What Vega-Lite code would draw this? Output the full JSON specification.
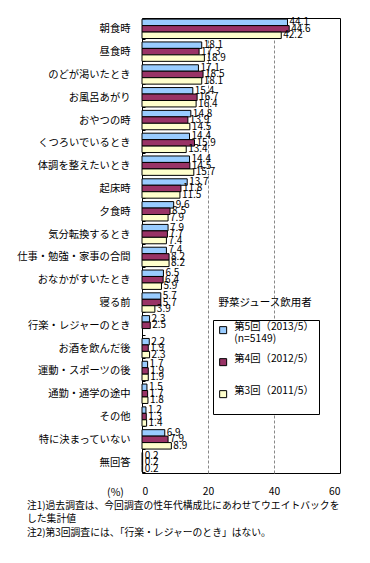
{
  "$schema": "https://vega.github.io/schema/vega-lite/v6.json",
  "width": 198,
  "height": 455,
  "autosize": {"type": "none"},
  "padding": {"left": 142, "top": 18, "right": 30, "bottom": 90},
  "config": {
    "font": "Noto Sans CJK JP",
    "view": {"stroke": "black", "strokeWidth": 1},
    "axis": {"labelColor": "black", "titleColor": "black", "tickColor": "black"}
  },
  "title": {
    "text": ["注1)過去調査は、今回調査の性年代構成比にあわせてウエイトバックを", "した集計値", "注2)第3回調査には、「行楽・レジャーのとき」はない。"],
    "orient": "bottom",
    "anchor": "start",
    "frame": "group",
    "dx": -115,
    "offset": 3,
    "fontSize": 9.8,
    "fontWeight": "normal",
    "lineHeight": 13.5,
    "color": "black"
  },
  "datasets": {
    "main": [
      {"cat": "朝食時", "series": "第5回（2013/5）", "v": 44.1},
      {"cat": "朝食時", "series": "第4回（2012/5）", "v": 44.6},
      {"cat": "朝食時", "series": "第3回（2011/5）", "v": 42.2},
      {"cat": "昼食時", "series": "第5回（2013/5）", "v": 18.1},
      {"cat": "昼食時", "series": "第4回（2012/5）", "v": 17.3},
      {"cat": "昼食時", "series": "第3回（2011/5）", "v": 18.9},
      {"cat": "のどが渇いたとき", "series": "第5回（2013/5）", "v": 17.1},
      {"cat": "のどが渇いたとき", "series": "第4回（2012/5）", "v": 18.5},
      {"cat": "のどが渇いたとき", "series": "第3回（2011/5）", "v": 18.1},
      {"cat": "お風呂あがり", "series": "第5回（2013/5）", "v": 15.4},
      {"cat": "お風呂あがり", "series": "第4回（2012/5）", "v": 16.7},
      {"cat": "お風呂あがり", "series": "第3回（2011/5）", "v": 16.4},
      {"cat": "おやつの時", "series": "第5回（2013/5）", "v": 14.8},
      {"cat": "おやつの時", "series": "第4回（2012/5）", "v": 13.9},
      {"cat": "おやつの時", "series": "第3回（2011/5）", "v": 14.5},
      {"cat": "くつろいでいるとき", "series": "第5回（2013/5）", "v": 14.4},
      {"cat": "くつろいでいるとき", "series": "第4回（2012/5）", "v": 15.9},
      {"cat": "くつろいでいるとき", "series": "第3回（2011/5）", "v": 13.4},
      {"cat": "体調を整えたいとき", "series": "第5回（2013/5）", "v": 14.4},
      {"cat": "体調を整えたいとき", "series": "第4回（2012/5）", "v": 14.5},
      {"cat": "体調を整えたいとき", "series": "第3回（2011/5）", "v": 15.7},
      {"cat": "起床時", "series": "第5回（2013/5）", "v": 13.7},
      {"cat": "起床時", "series": "第4回（2012/5）", "v": 11.8},
      {"cat": "起床時", "series": "第3回（2011/5）", "v": 11.5},
      {"cat": "夕食時", "series": "第5回（2013/5）", "v": 9.6},
      {"cat": "夕食時", "series": "第4回（2012/5）", "v": 8.5},
      {"cat": "夕食時", "series": "第3回（2011/5）", "v": 7.9},
      {"cat": "気分転換するとき", "series": "第5回（2013/5）", "v": 7.9},
      {"cat": "気分転換するとき", "series": "第4回（2012/5）", "v": 7.7},
      {"cat": "気分転換するとき", "series": "第3回（2011/5）", "v": 7.4},
      {"cat": "仕事・勉強・家事の合間", "series": "第5回（2013/5）", "v": 7.4},
      {"cat": "仕事・勉強・家事の合間", "series": "第4回（2012/5）", "v": 8.2},
      {"cat": "仕事・勉強・家事の合間", "series": "第3回（2011/5）", "v": 8.2},
      {"cat": "おなかがすいたとき", "series": "第5回（2013/5）", "v": 6.5},
      {"cat": "おなかがすいたとき", "series": "第4回（2012/5）", "v": 6.4},
      {"cat": "おなかがすいたとき", "series": "第3回（2011/5）", "v": 5.9},
      {"cat": "寝る前", "series": "第5回（2013/5）", "v": 5.7},
      {"cat": "寝る前", "series": "第4回（2012/5）", "v": 5.7},
      {"cat": "寝る前", "series": "第3回（2011/5）", "v": 3.9},
      {"cat": "行楽・レジャーのとき", "series": "第5回（2013/5）", "v": 2.3},
      {"cat": "行楽・レジャーのとき", "series": "第4回（2012/5）", "v": 2.5},
      {"cat": "お酒を飲んだ後", "series": "第5回（2013/5）", "v": 2.2},
      {"cat": "お酒を飲んだ後", "series": "第4回（2012/5）", "v": 1.9},
      {"cat": "お酒を飲んだ後", "series": "第3回（2011/5）", "v": 2.3},
      {"cat": "運動・スポーツの後", "series": "第5回（2013/5）", "v": 1.7},
      {"cat": "運動・スポーツの後", "series": "第4回（2012/5）", "v": 1.9},
      {"cat": "運動・スポーツの後", "series": "第3回（2011/5）", "v": 1.9},
      {"cat": "通勤・通学の途中", "series": "第5回（2013/5）", "v": 1.5},
      {"cat": "通勤・通学の途中", "series": "第4回（2012/5）", "v": 1.7},
      {"cat": "通勤・通学の途中", "series": "第3回（2011/5）", "v": 1.8},
      {"cat": "その他", "series": "第5回（2013/5）", "v": 1.2},
      {"cat": "その他", "series": "第4回（2012/5）", "v": 1.3},
      {"cat": "その他", "series": "第3回（2011/5）", "v": 1.4},
      {"cat": "特に決まっていない", "series": "第5回（2013/5）", "v": 6.9},
      {"cat": "特に決まっていない", "series": "第4回（2012/5）", "v": 7.9},
      {"cat": "特に決まっていない", "series": "第3回（2011/5）", "v": 8.9},
      {"cat": "無回答", "series": "第5回（2013/5）", "v": 0.2},
      {"cat": "無回答", "series": "第4回（2012/5）", "v": 0.2},
      {"cat": "無回答", "series": "第3回（2011/5）", "v": 0.2}
    ],
    "note": [{"t": "野菜ジュース飲用者"}]
  },
  "layer": [
    {
      "data": {"name": "main"},
      "mark": {"type": "bar", "stroke": "black", "strokeWidth": 1},
      "encoding": {
        "y": {
          "field": "cat", "type": "nominal",
          "sort": ["朝食時", "昼食時", "のどが渇いたとき", "お風呂あがり", "おやつの時", "くつろいでいるとき", "体調を整えたいとき", "起床時", "夕食時", "気分転換するとき", "仕事・勉強・家事の合間", "おなかがすいたとき", "寝る前", "行楽・レジャーのとき", "お酒を飲んだ後", "運動・スポーツの後", "通勤・通学の途中", "その他", "特に決まっていない", "無回答"],
          "scale": {"paddingInner": 0.15, "paddingOuter": 0.05},
          "axis": {"title": null, "domain": false, "ticks": true, "tickBand": "extent", "tickSize": -3, "labelPadding": 15, "labelFontSize": 10.3}
        },
        "yOffset": {
          "field": "series", "type": "nominal",
          "sort": ["第5回（2013/5）", "第4回（2012/5）", "第3回（2011/5）"],
          "scale": {"paddingInner": 0, "paddingOuter": 0}
        },
        "x": {
          "field": "v", "type": "quantitative",
          "scale": {"domain": [0, 60], "nice": false},
          "axis": {
            "orient": "bottom", "values": [0, 20, 40, 60], "domain": false, "ticks": false,
            "grid": true, "gridDash": [3, 2], "gridColor": "#888888",
            "gridOpacity": {"condition": {"test": "datum.value == 0 || datum.value == 60", "value": 0}, "value": 1},
            "labelPadding": 13, "labelFontSize": 10.3,
            "title": "(%)", "titleX": -27, "titleY": 19, "titleBaseline": "middle", "titleAlign": "center", "titleFontWeight": "normal", "titleFontSize": 10.5
          }
        },
        "color": {
          "field": "series", "type": "nominal",
          "scale": {"domain": ["第5回（2013/5）", "第4回（2012/5）", "第3回（2011/5）"], "range": ["#99CCFF", "#993366", "#FFFFCC"]},
          "legend": {
            "orient": "none", "legendX": 71, "legendY": 302, "title": null,
            "fillColor": "white", "strokeColor": "black", "padding": 5,
            "symbolType": "square", "symbolSize": 49, "symbolStrokeColor": "black", "symbolStrokeWidth": 1,
            "labelFontSize": 10.3, "labelColor": "black", "labelOffset": 6, "rowPadding": 9, "labelBaseline": "alphabetic",
            "labelExpr": "datum.label == '第5回（2013/5）' ? ['第5回（2013/5）', '(n=5149)'] : [datum.label, ' ']"
          }
        }
      }
    },
    {
      "data": {"name": "main"},
      "mark": {"type": "text", "align": "left", "baseline": "middle", "dx": 2, "fontSize": 10, "color": "black"},
      "encoding": {
        "y": {"field": "cat", "type": "nominal", "sort": ["朝食時", "昼食時", "のどが渇いたとき", "お風呂あがり", "おやつの時", "くつろいでいるとき", "体調を整えたいとき", "起床時", "夕食時", "気分転換するとき", "仕事・勉強・家事の合間", "おなかがすいたとき", "寝る前", "行楽・レジャーのとき", "お酒を飲んだ後", "運動・スポーツの後", "通勤・通学の途中", "その他", "特に決まっていない", "無回答"]},
        "yOffset": {"field": "series", "type": "nominal", "sort": ["第5回（2013/5）", "第4回（2012/5）", "第3回（2011/5）"]},
        "x": {"field": "v", "type": "quantitative"},
        "text": {"field": "v", "type": "quantitative", "format": ".1f"}
      }
    },
    {
      "data": {"name": "note"},
      "mark": {"type": "text", "align": "left", "baseline": "middle", "fontSize": 10.5, "color": "black"},
      "encoding": {
        "x": {"datum": 23.2, "type": "quantitative"},
        "y": {"datum": "寝る前", "type": "nominal"},
        "text": {"field": "t"}
      }
    }
  ]
}
